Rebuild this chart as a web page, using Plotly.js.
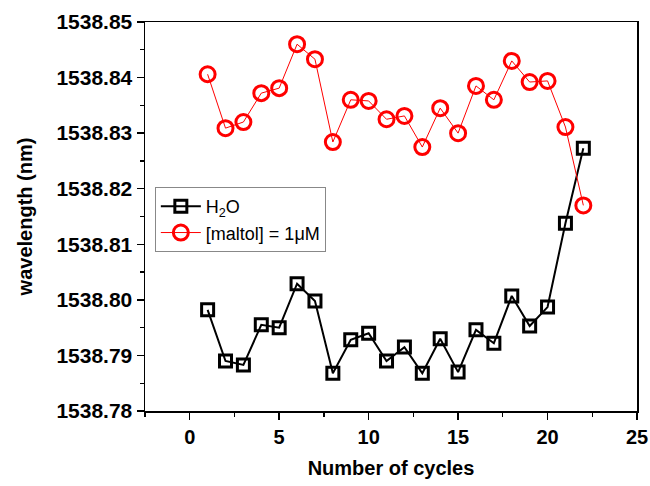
<!DOCTYPE html>
<html>
<head>
<meta charset="utf-8">
<script src="https://cdn.plot.ly/plotly-3.0.1.min.js"></script>
<style>html,body{margin:0;padding:0;background:#fff;}#chart{width:650px;height:486px;}</style>
</head>
<body>
<div id="chart"></div>
<script>
const cycles = [1,2,3,4,5,6,7,8,9,10,11,12,13,14,15,16,17,18,19,20,21,22];
const h2oWavelength = [1538.7982,1538.7890,1538.7883,1538.7955,1538.7950,1538.8029,1538.7998,1538.7868,1538.7928,1538.7940,1538.7890,1538.7915,1538.7868,1538.7930,1538.7870,1538.7946,1538.7922,1538.8007,1538.7953,1538.7987,1538.8138,1538.8273];
const maltolWavelength = [1538.8406,1538.8309,1538.8320,1538.8372,1538.8381,1538.8460,1538.8433,1538.8284,1538.8360,1538.8358,1538.8325,1538.8331,1538.8275,1538.8345,1538.8300,1538.8385,1538.8360,1538.8430,1538.8392,1538.8394,1538.8311,1538.8170];
const seriesNames = ['H<sub>2</sub>O', '[maltol] = 1μM'];
const xTickVals = [0,5,10,15,20,25];
const yTickVals = [1538.78,1538.79,1538.80,1538.81,1538.82,1538.83,1538.84,1538.85];

const font = 'Arial, "Liberation Sans", sans-serif';
const traces = [
  {x: cycles, y: h2oWavelength, name: seriesNames[0], type: 'scatter', mode: 'lines+markers',
   line: {color: '#000', width: 2},
   marker: {symbol: 'square-open', size: 12, color: '#000', line: {color: '#000', width: 3}}},
  {x: cycles, y: maltolWavelength, name: seriesNames[1], type: 'scatter', mode: 'lines+markers',
   line: {color: '#ff0000', width: 1},
   marker: {symbol: 'circle-open', size: 15, color: '#ff0000', line: {color: '#ff0000', width: 3}}}
];
const layout = {
  width: 650, height: 486,
  margin: {l: 145, r: 13, t: 22, b: 75},
  paper_bgcolor: '#fff', plot_bgcolor: '#fff',
  showlegend: true,
  legend: {x: 0.02, y: 0.576, xanchor: 'left', yanchor: 'top',
    bordercolor: '#888', borderwidth: 1, bgcolor: '#fff',
    font: {family: font, size: 18, color: '#000'}, itemwidth: 40, tracegroupgap: 0},
  xaxis: {range: [-2.5, 25], tickvals: xTickVals, ticks: 'outside', ticklen: 7, tickwidth: 1.5, tickcolor: '#000',
    minor: {dtick: 2.5, tick0: 0, ticks: 'outside', ticklen: 4, tickwidth: 1.2, tickcolor: '#000'},
    showgrid: false, zeroline: false, showline: true, linecolor: '#000', linewidth: 1.5, mirror: true,
    tickfont: {family: font, size: 20, color: '#000', weight: 'bold'},
    title: {text: '<b>Number of cycles</b>', font: {family: font, size: 20, color: '#000'}, standoff: 14}},
  yaxis: {range: [1538.78, 1538.85], tickvals: yTickVals, tickformat: '.2f', ticks: 'outside', ticklen: 7, tickwidth: 1.5, tickcolor: '#000',
    minor: {dtick: 0.005, tick0: 1538.78, ticks: 'outside', ticklen: 4, tickwidth: 1.2, tickcolor: '#000'},
    showgrid: false, zeroline: false, showline: true, linecolor: '#000', linewidth: 1.5, mirror: true,
    tickfont: {family: font, size: 21, color: '#000', weight: 'bold'},
    title: {text: '<b>wavelength (nm)</b>', font: {family: font, size: 20, color: '#000'}, standoff: 18}}
};
Plotly.newPlot('chart', traces, layout, {displayModeBar: false, staticPlot: true});
</script>
</body>
</html>
